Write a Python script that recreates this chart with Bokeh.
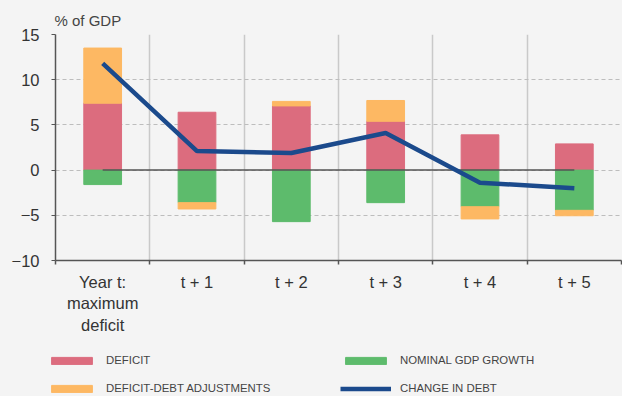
from bokeh.plotting import figure
from bokeh.layouts import column, row
from bokeh.models import FixedTicker, Legend, LegendItem, Range1d
from bokeh.embed import file_html
from bokeh.resources import INLINE

categories = ["Year t:\nmaximum\ndeficit", "t + 1", "t + 2", "t + 3", "t + 4", "t + 5"]
deficit = [7.4, 6.4, 7.1, 5.4, 3.9, 2.9]
adjustments = [6.1, -0.7, 0.5, 2.3, -1.35, -0.6]
gdp_growth = [-1.6, -3.6, -5.7, -3.6, -4.05, -4.45]
change_in_debt = [11.8, 2.1, 1.9, 4.1, -1.4, -2.0]
y_ticks = [-10, -5, 0, 5, 10, 15]

PINK = "#dc6c7e"
ORANGE = "#fdb863"
GREEN = "#5dbb6c"
BLUE = "#1b4a8c"
BG = "#f4f4f4"
FONT = "Liberation Sans"

xs = [i + 0.5 for i in range(len(categories))]
bounds = list(range(len(categories) + 1))
adj_bottom = [d if a >= 0 else g for d, g, a in zip(deficit, gdp_growth, adjustments)]
adj_top = [b + a for b, a in zip(adj_bottom, adjustments)]

p = figure(width=622, height=338, output_backend="svg", toolbar_location=None,
           x_range=Range1d(0, len(categories)), y_range=Range1d(y_ticks[0], y_ticks[-1]),
           min_border_left=55, min_border_right=1, min_border_top=34, min_border_bottom=78)
p.background_fill_color = BG
p.border_fill_color = BG
p.outline_line_color = None

p.title.text = "% of GDP"
p.title.text_font = FONT
p.title.text_font_size = "15px"
p.title.text_font_style = "normal"
p.title.text_color = "#444444"
p.title.align = "left"
p.title.offset = -1
p.title.standoff = 12

yax = p.yaxis[0]
yax.ticker = FixedTicker(ticks=y_ticks)
yax.axis_line_color = "#555555"
yax.axis_line_width = 1.5
yax.major_tick_line_color = "#555555"
yax.major_tick_out = 4
yax.major_tick_in = 0
yax.minor_tick_line_color = None
yax.major_label_standoff = 12
yax.major_label_text_font = FONT
yax.major_label_text_font_size = "16.5px"
yax.major_label_text_color = "#333333"

xax = p.xaxis[0]
xax.ticker = FixedTicker(ticks=xs, minor_ticks=bounds)
xax.axis_line_color = "#555555"
xax.axis_line_width = 1.5
xax.major_tick_line_color = None
xax.major_tick_out = 0
xax.major_tick_in = 0
xax.minor_tick_line_color = "#555555"
xax.minor_tick_line_width = 1.5
xax.minor_tick_out = 4
xax.minor_tick_in = 0
xax.major_label_overrides = {x: c for x, c in zip(xs, categories)}
xax.major_label_standoff = 8
xax.major_label_text_font = FONT
xax.major_label_text_font_size = "16.5px"
xax.major_label_text_color = "#333333"

p.xgrid.ticker = FixedTicker(ticks=bounds[1:])
p.xgrid.grid_line_color = "#c9c9c9"
p.xgrid.grid_line_width = 1.5
p.ygrid.ticker = FixedTicker(ticks=y_ticks[1:])
p.ygrid.grid_line_color = "#bdbdbd"
p.ygrid.grid_line_dash = "4 3"
p.ygrid.grid_line_width = 1

bar_w = 0.4
p.vbar(x=xs, bottom=0, top=deficit, width=bar_w, fill_color=PINK, line_color=PINK)
p.vbar(x=xs, bottom=gdp_growth, top=0, width=bar_w, fill_color=GREEN, line_color=GREEN)
p.vbar(x=xs, bottom=adj_bottom, top=adj_top, width=bar_w, fill_color=ORANGE, line_color=ORANGE)
p.segment(x0=xs[0], x1=xs[-1], y0=0, y1=0, line_color="#555555", line_width=1.5)
p.line(xs, change_in_debt, line_color=BLUE, line_width=4.5)

# legend strip (separate figure so that the legend is not clipped)
lg = figure(width=622, height=58, output_backend="svg", toolbar_location=None,
            x_range=Range1d(0, len(categories)), y_range=Range1d(y_ticks[0], y_ticks[-1]),
            min_border=0)
lg.background_fill_alpha = 0
lg.border_fill_alpha = 0
lg.outline_line_color = None
lg.axis.visible = False
lg.grid.visible = False
l_def = lg.vbar(x=xs, bottom=0, top=deficit, width=bar_w, fill_color=PINK, line_color=PINK, visible=False)
l_adj = lg.vbar(x=xs, bottom=adj_bottom, top=adj_top, width=bar_w, fill_color=ORANGE, line_color=ORANGE, visible=False)
l_gdp = lg.vbar(x=xs, bottom=gdp_growth, top=0, width=bar_w, fill_color=GREEN, line_color=GREEN, visible=False)
l_debt = lg.line(xs, change_in_debt, line_color=BLUE, line_width=4.5, visible=False)

legend = Legend(items=[
    LegendItem(label="DEFICIT", renderers=[l_def]),
    LegendItem(label="DEFICIT-DEBT ADJUSTMENTS", renderers=[l_adj]),
    LegendItem(label="NOMINAL GDP GROWTH", renderers=[l_gdp]),
    LegendItem(label="CHANGE IN DEBT", renderers=[l_debt]),
], orientation="vertical", ncols=2, location=(46, 0),
    glyph_width=51, glyph_height=9, label_standoff=9, label_width=222, label_height=16,
    spacing=12, padding=0, margin=0, background_fill_alpha=0, border_line_color=None,
    inactive_fill_alpha=0,
    label_text_font=FONT, label_text_font_size="11.4px", label_text_color="#444444")
lg.add_layout(legend, "center")

layout = column(p, row(lg, styles={"background-color": BG}), spacing=0,
                styles={"background-color": BG})
open("out.html", "w").write(file_html(layout, INLINE))
